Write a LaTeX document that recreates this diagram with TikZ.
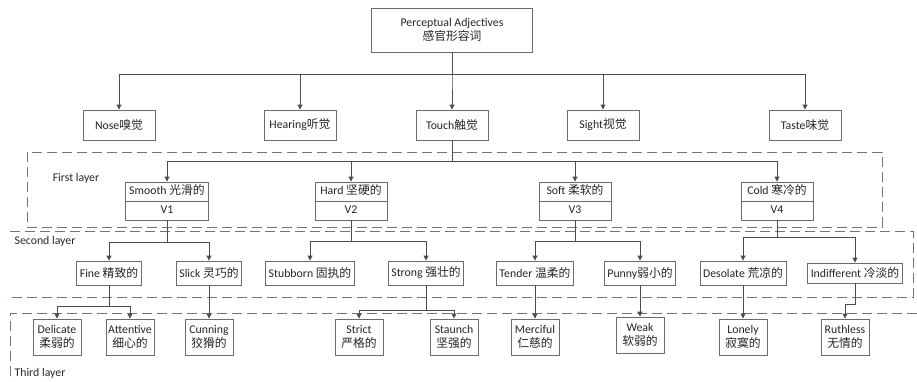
\documentclass[tikz,border=0pt]{standalone}
\usepackage{fontspec}
\setmainfont{Carlito}
\newfontfamily\cjk{Noto Sans CJK SC}[Scale=1.0]
\newcommand{\hz}[1]{{\cjk #1}}
\usetikzlibrary{arrows.meta,shapes.multipart}
\definecolor{line gray}{rgb}{0.3,0.3,0.3}
\definecolor{box gray}{rgb}{0.42,0.42,0.42}
\definecolor{dash gray}{rgb}{0.45,0.45,0.45}

\begin{document}
\begin{tikzpicture}[x=1pt,y=-1pt,
    every node/.style={font=\fontsize{11.8}{14}\selectfont, text=black!85},
    topbox/.style={draw=box gray, fill=white, line width=0.9pt, align=center,
        minimum width=161pt, minimum height=44pt},
    sense/.style={draw=box gray, fill=white, line width=0.9pt,
        minimum width=72pt, minimum height=30pt, inner xsep=4pt},
    twobox/.style={draw=box gray, fill=white, line width=0.9pt, rectangle split,
        rectangle split parts=2, minimum width=72pt, inner xsep=4pt, inner ysep=2pt},
    word/.style={draw=box gray, fill=white, line width=0.9pt,
        minimum height=24pt, inner xsep=3pt},
    leaf/.style={draw=box gray, fill=white, line width=0.9pt, align=center,
        minimum width=48pt, minimum height=36pt, inner xsep=2pt, inner ysep=1.5pt},
    link/.style={draw=line gray, line width=0.9pt, -{Triangle[length=5pt,width=5pt]}},
    layer/.style={draw=dash gray, line width=0.9pt, dash pattern=on 10pt off 5pt},
    tag/.style={inner sep=0pt}]
\useasboundingbox (0,0) rectangle (917,381);

% layer frames
\draw[layer] (27,152) rectangle (882,227);
\draw[layer] (10,231) -- (913,231) -- (913,297) -- (7,297);
\draw[layer] (917,313) -- (10,313) -- (10,381);
\node[tag] (first) at (76,178) {First layer};
\node[tag] (second) at (45,241) {Second layer};
\node[tag] (third) at (40,373) {Third layer};

% root and the five senses
\node[topbox] (root) at (452,30) {Perceptual Adjectives\\\hz{感官形容词}};
\node[sense] (nose) at (119,125) {Nose\hz{嗅觉}};
\node[sense] (hearing) at (300,125) {Hearing\hz{听觉}};
\node[sense] (touch) at (452,125) {Touch\hz{触觉}};
\node[sense] (sight) at (603,125) {Sight\hz{视觉}};
\node[sense] (taste) at (805,125) {Taste\hz{味觉}};

% first layer
\node[twobox] (smooth) at (167,201) {\strut Smooth \hz{光滑的}\nodepart{two}\strut V1};
\node[twobox] (hard) at (351,201) {\strut Hard \hz{坚硬的}\nodepart{two}\strut V2};
\node[twobox] (soft) at (575,201) {\strut Soft \hz{柔软的}\nodepart{two}\strut V3};
\node[twobox] (cold) at (777,201) {\strut Cold \hz{寒冷的}\nodepart{two}\strut V4};

% second layer
\node[word] (fine) at (109,273) {Fine \hz{精致的}};
\node[word] (slick) at (209,273) {Slick \hz{灵巧的}};
\node[word] (stubborn) at (310,273) {Stubborn \hz{固执的}};
\node[word] (strong) at (426,273) {Strong \hz{强壮的}};
\node[word] (tender) at (535,273) {Tender \hz{温柔的}};
\node[word] (punny) at (640,273) {Punny\hz{弱小的}};
\node[word] (desolate) at (743,273) {Desolate \hz{荒凉的}};
\node[word, minimum height=20pt] (indiff) at (855,273) {Indifferent \hz{冷淡的}};

% third layer
\node[leaf] (delicate) at (57,337) {Delicate\\\hz{柔弱的}};
\node[leaf] (attentive) at (130,337) {Attentive\\\hz{细心的}};
\node[leaf] (cunning) at (209,337) {Cunning\\\hz{狡猾的}};
\node[leaf] (strict) at (359,337) {Strict\\\hz{严格的}};
\node[leaf] (staunch) at (454,337) {Staunch\\\hz{坚强的}};
\node[leaf] (merciful) at (535,337) {Merciful\\\hz{仁慈的}};
\node[leaf] (weak) at (640,335) {Weak\\\hz{软弱的}};
\node[leaf] (lonely) at (743,337) {Lonely\\\hz{寂寞的}};
\node[leaf] (ruthless) at (845,337) {Ruthless\\\hz{无情的}};

% connectors
\foreach \c in {nose,hearing,touch,sight,taste}
    \draw[link] (root.south) -- +(0,22) -| (\c.north);
\foreach \c in {smooth,hard,soft,cold}
    \draw[link] (touch.south) -- +(0,21) -| (\c.north);
\foreach \c in {fine,slick}
    \draw[link] (smooth.south) -- +(0,22) -| (\c.north);
\foreach \c in {stubborn,strong}
    \draw[link] (hard.south) -- +(0,21) -| (\c.north);
\foreach \c in {tender,punny}
    \draw[link] (soft.south) -- +(0,21) -| (\c.north);
\foreach \c in {desolate,indiff}
    \draw[link] (cold.south) -- +(0,17) -| (\c.north);
\foreach \c in {delicate,attentive}
    \draw[link] (fine.south) -- +(0,21) -| (\c.north);
\foreach \c in {strict,staunch}
    \draw[link] (strong.south) -- +(0,25) -| (\c.north);
\foreach \a/\b in {slick/cunning,tender/merciful,punny/weak,desolate/lonely}
    \draw[link] (\a) -- (\b);
\draw[link] (indiff.south) -- +(0,21) -| (ruthless.north);
\end{tikzpicture}
\end{document}
